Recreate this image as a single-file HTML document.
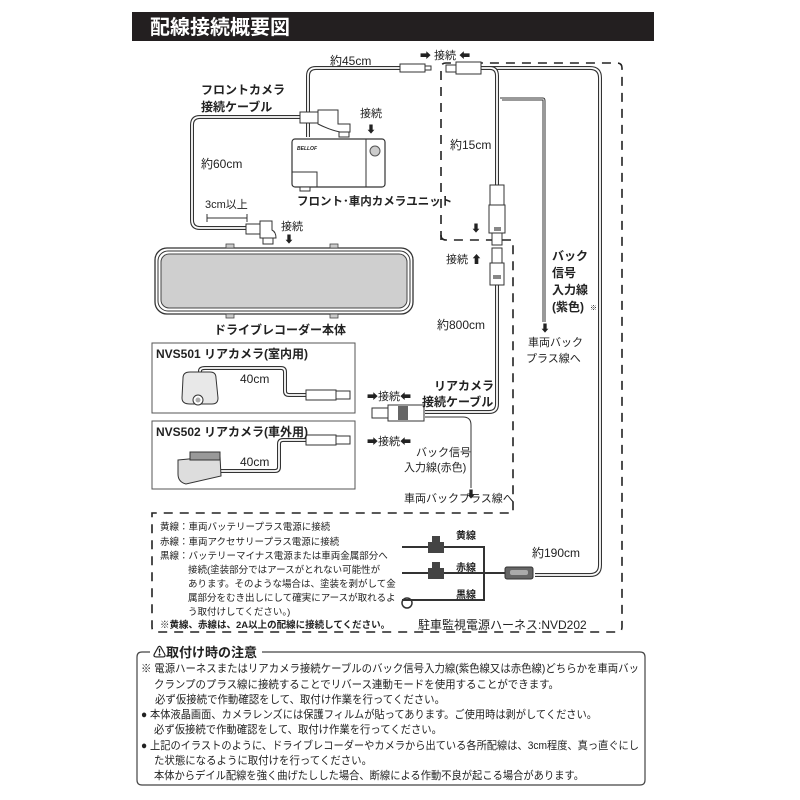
<!DOCTYPE html>
<html><head><meta charset="utf-8"><style>
html,body{margin:0;padding:0;background:#fff;}
svg{display:block}
text{font-family:"Liberation Sans","Noto Sans CJK JP",sans-serif;fill:#222}
.b{font-weight:bold}
.cab{fill:none;stroke:#333;stroke-width:4}
.cabi{fill:none;stroke:#fff;stroke-width:1.8}
.dash{fill:none;stroke:#222;stroke-width:1.6;stroke-dasharray:9 7}
.thin{fill:none;stroke:#333;stroke-width:1}
</style></head><body>
<svg width="800" height="800" viewBox="0 0 800 800" xmlns="http://www.w3.org/2000/svg">
<rect x="132" y="12" width="522" height="29" fill="#231f20"/>
<text x="150" y="34" font-size="20" class="b" style="fill:#fff">配線接続概要図</text>

<path class="dash" d="M441 240 L441 68 Q441 63 446 63 L617 63 Q622 63 622 68 L622 627 Q622 632 617 632 L157 632 Q152 632 152 627 L152 513 L513 513 L513 245"/>
<path class="dash" d="M441 235 Q441 240 446 240 L513 240"/>

<rect x="152" y="343" width="203" height="70" fill="#fff" stroke="#555"/>
<rect x="152" y="421" width="203" height="68" fill="#fff" stroke="#555"/>

<g>
<path class="cab" d="M308 137 L308 76 Q308 68 316 68 L405 68"/>
<path class="cabi" d="M308 137 L308 76 Q308 68 316 68 L405 68"/>
<path class="cab" d="M300 117 L200 117 Q192 117 192 125 L192 220 Q192 228 200 228 L250 228"/>
<path class="cabi" d="M300 117 L200 117 Q192 117 192 125 L192 220 Q192 228 200 228 L250 228"/>
<path class="cab" d="M480 68 L590 68 Q600 68 600 78 L600 565 Q600 575 590 575 L535 575"/>
<path class="cabi" d="M480 68 L590 68 Q600 68 600 78 L600 565 Q600 575 590 575 L535 575"/>
<path class="cab" d="M480 68 L490 68 Q497 68 497 76 L497 185"/>
<path class="cabi" d="M480 68 L490 68 Q497 68 497 76 L497 185"/>
<path class="thin" d="M500 98 L543 98 Q545 98 545 101 L545 322"/>
<path class="thin" d="M502 100 L543 100 L543 322" />
<path class="cab" d="M497 285 L497 404 Q497 412 489 412 L425 412"/>
<path class="cabi" d="M497 285 L497 404 Q497 412 489 412 L425 412"/>
<path class="thin" d="M425 417 L463 417 Q471 417 471 425 L471 488"/>
<path class="cab" d="M200 372 L200 371 Q200 368 205 368 L281 368 Q285 368 285 372 L285 391 Q285 395 289 395 L306 395"/>
<path class="cabi" d="M200 372 L200 371 Q200 368 205 368 L281 368 Q285 368 285 372 L285 391 Q285 395 289 395 L306 395"/>
<path class="cab" d="M220 471 L275 471 Q279 471 279 467 L279 444 Q279 440 283 440 L306 440"/>
<path class="cabi" d="M220 471 L275 471 Q279 471 279 467 L279 444 Q279 440 283 440 L306 440"/>
</g>

<g fill="#fff" stroke="#333" stroke-width="1">
<rect x="400" y="64" width="25" height="8"/><rect x="425" y="66" width="6" height="4"/>
<rect x="446" y="65" width="10" height="7"/><rect x="456" y="62" width="25" height="12"/>
<rect x="300" y="112" width="18" height="11"/><path d="M318 110 L338 110 L338 124 L350 124 L350 132 L340 132 Q330 130 318 124 Z"/><rect x="339" y="132" width="10" height="5"/>
<rect x="246" y="224" width="14" height="10"/><path d="M260 221 L272 221 L272 230 Q276 232 276 238 L260 238 Z"/><rect x="263" y="238" width="10" height="6"/>
<rect x="490" y="185" width="14" height="20"/><rect x="489" y="205" width="16" height="28"/><rect x="492" y="233" width="10" height="12"/>
<rect x="492" y="248" width="10" height="15"/><rect x="490" y="263" width="14" height="22"/>
<rect x="306" y="390" width="30" height="10"/><rect x="336" y="391" width="14" height="8"/>
<rect x="306" y="435" width="30" height="10"/><rect x="336" y="436" width="14" height="8"/>
<rect x="372" y="408" width="16" height="10"/><rect x="388" y="405" width="36" height="16"/>
</g>
<rect x="494" y="227" width="7" height="4" fill="#888"/>
<rect x="493" y="275" width="8" height="4" fill="#888"/>
<rect x="398" y="406" width="10" height="14" fill="#666"/>

<rect x="292" y="139" width="93" height="48" rx="3" fill="#fff" stroke="#333" stroke-width="1.2"/>
<line x1="366" y1="139" x2="366" y2="187" stroke="#333"/>
<circle cx="375" cy="151" r="5" fill="#ccc" stroke="#555"/>
<path d="M292 172 L317 172 L317 187" fill="none" stroke="#333"/>
<rect x="300" y="187" width="10" height="4" fill="#fff" stroke="#333"/>
<text x="297" y="150" font-size="5" class="b" font-style="italic">BELLOF</text>

<rect x="155" y="248" width="258" height="66" rx="12" fill="#fff" stroke="#333" stroke-width="1.3"/>
<rect x="158" y="251" width="252" height="60" rx="10" fill="none" stroke="#333" stroke-width="1"/>
<rect x="161" y="254" width="246" height="54" rx="8" fill="#cfcfcf" stroke="#444"/>
<g fill="#ccc" stroke="#444" stroke-width="0.8"><rect x="226" y="244" width="8" height="4"/><rect x="330" y="244" width="8" height="4"/><rect x="226" y="314" width="8" height="4"/><rect x="330" y="314" width="8" height="4"/></g>

<path d="M183 378 Q183 372 190 372 L210 372 Q216 372 216 378 L218 398 Q218 404 212 404 L190 404 Q182 404 182 398 Z" fill="#e8e8e8" stroke="#333"/>
<circle cx="198" cy="400" r="5" fill="#fff" stroke="#333"/><circle cx="198" cy="400" r="2.5" fill="#aaa"/>
<path d="M178 460 L220 456 L221 476 L186 484 Q178 482 178 474 Z" fill="#ddd" stroke="#333"/>
<rect x="190" y="452" width="30" height="8" fill="#999" stroke="#333"/>

<g stroke="#333" stroke-width="2" fill="none">
<path d="M402 547 L484 547 L484 600 L402 600"/>
<path d="M402 573 L505 573"/>
</g>
<circle cx="407" cy="603" r="5" fill="none" stroke="#333" stroke-width="1.5"/>
<rect x="428" y="542" width="16" height="11" fill="#444"/><rect x="432" y="536" width="8" height="6" fill="#444"/>
<rect x="428" y="568" width="16" height="11" fill="#444"/><rect x="432" y="562" width="8" height="6" fill="#444"/>
<rect x="505" y="567" width="28" height="12" rx="2" fill="#666" stroke="#333"/><rect x="510" y="570" width="18" height="5" rx="2" fill="#aaa"/>

<g font-size="10">
<text x="420" y="59" font-size="11">➡ 接続 ⬅</text>
<text x="360" y="117" font-size="11">接続</text><text x="366" y="133" font-size="10">⬇</text>
<text x="281" y="230" font-size="11">接続</text><text x="284" y="243" font-size="10">⬇</text>
<text x="471" y="232" font-size="10">⬇</text>
<text x="446" y="263" font-size="11">接続 ⬆</text>
<text x="540" y="332" font-size="10">⬇</text>
<text x="466" y="498" font-size="10">⬇</text>
<text x="367" y="400" font-size="11">➡接続⬅</text>
<text x="367" y="445" font-size="11">➡接続⬅</text>
</g>

<text x="330" y="65" font-size="12">約45cm</text>
<text x="201" y="94" font-size="12" class="b">フロントカメラ</text>
<text x="201" y="111" font-size="12" class="b">接続ケーブル</text>
<text x="201" y="168" font-size="12">約60cm</text>
<text x="205" y="208" font-size="11">3cm以上</text>
<path d="M207 214 L207 222 M207 218 L247 218 M247 214 L247 222" stroke="#333" fill="none"/>
<text x="297" y="205" font-size="11.5" class="b">フロント･車内カメラユニット</text>
<text x="450" y="149" font-size="12">約15cm</text>
<text x="552" y="260" font-size="12" class="b">バック</text>
<text x="552" y="277" font-size="12" class="b">信号</text>
<text x="552" y="294" font-size="12" class="b">入力線</text>
<text x="552" y="311" font-size="12" class="b">(紫色)</text><text x="590" y="310" font-size="7">※</text>
<text x="528" y="346" font-size="11">車両バック</text>
<text x="526" y="362" font-size="11">プラス線へ</text>
<text x="437" y="329" font-size="12">約800cm</text>
<text x="214" y="334" font-size="12" class="b">ドライブレコーダー本体</text>
<text x="156" y="358" font-size="12" class="b">NVS501 リアカメラ(室内用)</text>
<text x="156" y="436" font-size="12" class="b">NVS502 リアカメラ(車外用)</text>
<text x="240" y="383" font-size="12">40cm</text>
<text x="240" y="466" font-size="12">40cm</text>
<text x="434" y="390" font-size="12" class="b">リアカメラ</text>
<text x="422" y="406" font-size="12" class="b">接続ケーブル</text>
<text x="416" y="456" font-size="11">バック信号</text>
<text x="404" y="471" font-size="11">入力線(赤色)</text>
<text x="404" y="502" font-size="11">車両バックプラス線へ</text>
<text x="532" y="557" font-size="12">約190cm</text>
<text x="456" y="539" font-size="10" class="b">黄線</text>
<text x="456" y="571" font-size="10" class="b">赤線</text>
<text x="456" y="598" font-size="10" class="b">黒線</text>
<text x="418" y="629" font-size="12">駐車監視電源ハーネス:NVD202</text>
<g font-size="9.5">
<text x="160" y="530">黄線：車両バッテリープラス電源に接続</text>
<text x="160" y="545">赤線：車両アクセサリープラス電源に接続</text>
<text x="160" y="559">黒線：バッテリーマイナス電源または車両金属部分へ</text>
<text x="188" y="573">接続(塗装部分ではアースがとれない可能性が</text>
<text x="188" y="587">あります。そのような場合は、塗装を剥がして金</text>
<text x="188" y="601">属部分をむき出しにして確実にアースが取れるよ</text>
<text x="188" y="615">う取付けしてください。)</text>
<text x="160" y="628" class="b">※黄線、赤線は、2A以上の配線に接続してください。</text>
</g>

<path d="M150 652 L142 652 Q137 652 137 657 L137 780 Q137 785 142 785 L640 785 Q645 785 645 780 L645 657 Q645 652 640 652 L262 652" fill="none" stroke="#444" stroke-width="1.2"/>
<text x="153" y="657" font-size="13" class="b">⚠取付け時の注意</text>
<g font-size="11">
<text x="141" y="672" textLength="498" lengthAdjust="spacingAndGlyphs">※ 電源ハーネスまたはリアカメラ接続ケーブルのバック信号入力線(紫色線又は赤色線)どちらかを車両バッ</text>
<text x="154" y="688" textLength="405" lengthAdjust="spacingAndGlyphs">クランプのプラス線に接続することでリバース連動モードを使用することができます。</text>
<text x="155" y="703" textLength="290" lengthAdjust="spacingAndGlyphs">必ず仮接続で作動確認をして、取付け作業を行ってください。</text>
<text x="141" y="718" textLength="456" lengthAdjust="spacingAndGlyphs">● 本体液晶画面、カメラレンズには保護フィルムが貼ってあります。ご使用時は剥がしてください。</text>
<text x="154" y="733" textLength="288" lengthAdjust="spacingAndGlyphs">必ず仮接続で作動確認をして、取付け作業を行ってください。</text>
<text x="141" y="749" textLength="498" lengthAdjust="spacingAndGlyphs">● 上記のイラストのように、ドライブレコーダーやカメラから出ている各所配線は、3cm程度、真っ直ぐにし</text>
<text x="154" y="764" textLength="218" lengthAdjust="spacingAndGlyphs">た状態になるように取付けを行ってください。</text>
<text x="154" y="779" textLength="430" lengthAdjust="spacingAndGlyphs">本体からデイル配線を強く曲げたしした場合、断線による作動不良が起こる場合があります。</text>
</g>
</svg>
</body></html>
